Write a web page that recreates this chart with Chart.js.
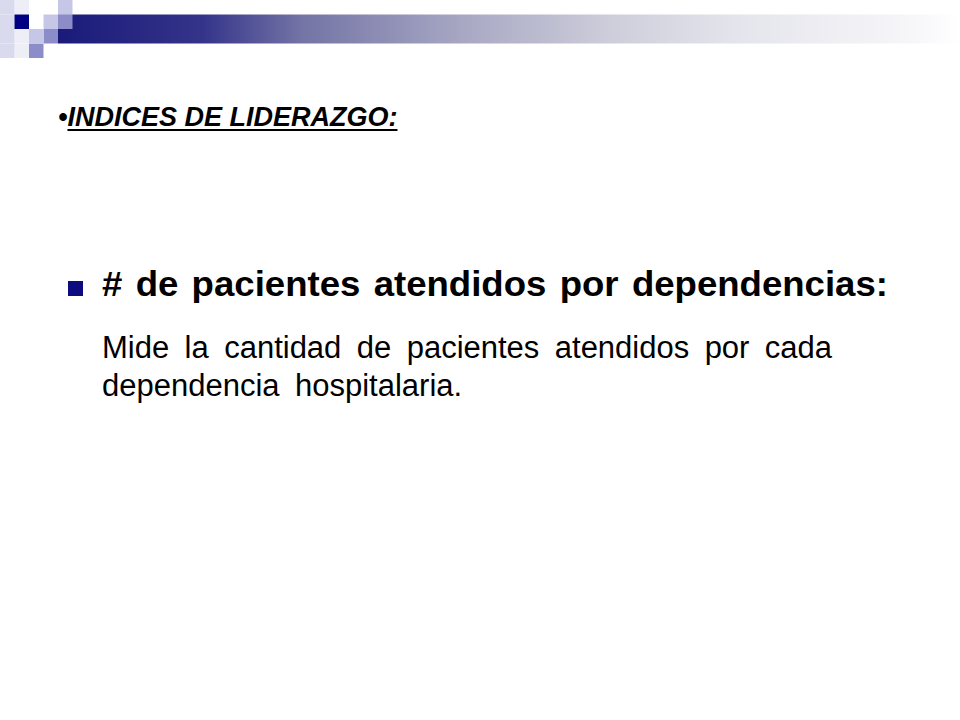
<!DOCTYPE html>
<html>
<head>
<meta charset="utf-8">
<script src="https://cdn.jsdelivr.net/npm/chart.js@4/dist/chart.umd.min.js"></script>
<style>
  html, body { margin: 0; padding: 0; background: #fff; }
  #slide { position: relative; width: 960px; height: 720px; overflow: hidden; font-family: "Liberation Sans", Arial, sans-serif; color: #000; }
  #deco { position: absolute; left: 0; top: 0; }
  .title { position: absolute; left: 58px; top: 104px; font-size: 27px; line-height: 27px; font-weight: bold; font-style: italic; white-space: nowrap; }
  .title u { text-decoration-thickness: 2px; text-underline-offset: 3px; }
  .bullet { position: absolute; left: 68px; top: 281px; width: 15px; height: 15px; background: #0c0c80; }
  .head { position: absolute; left: 102px; top: 266px; font-size: 35px; line-height: 35px; font-weight: bold; white-space: nowrap; word-spacing: 3px; transform: scaleX(1.045); transform-origin: 0 0; }
  .body { position: absolute; left: 102px; top: 329px; font-size: 31px; line-height: 38px; white-space: nowrap; word-spacing: 6.8px; }
</style>
</head>
<body>
<div id="slide">
  <canvas id="deco" width="960" height="72"></canvas>
  <div class="title">&bull;<u>INDICES DE LIDERAZGO:</u></div>
  <div class="bullet"></div>
  <div class="head"># de pacientes atendidos por dependencias:</div>
  <div class="body">Mide la cantidad de pacientes atendidos por cada<br>dependencia hospitalaria.</div>
</div>
<script>
// header decoration, in grid cells (col, row)
const navyCells   = [[1, 1]];
const lightCells  = [[4, 0], [3, 1], [2, 2]];
const mediumCells = [[4, 1], [3, 2], [2, 3]];
const paleCells   = [[0, 0], [0, 1], [0, 2], [0, 3]];
const faintCells  = [[1, 0], [1, 2], [1, 3]];
// band across the top: start col, end col, row line
const bandStart = 4;
const bandEnd = 66.3;
const bandRow = 2;

const CELL = 14.5;

function toPoints(cells) {
    return cells.map(c => ({ x: c[0] + 0.5, y: c[1] + 0.5 }))
}

function cellSet(cells, color) {
    return {
        type: 'scatter',
        data: toPoints(cells),
        pointStyle: 'rect',
        pointRadius: CELL / Math.SQRT2,
        pointHoverRadius: CELL / Math.SQRT2,
        backgroundColor: color,
        borderWidth: 0,
        clip: false,
        order: 1
    }
}

const ctx = document.getElementById('deco').getContext('2d');
const chart = new Chart(ctx, {
    type: 'scatter',
    data: {
        datasets: [
            {
                type: 'line',
                data: [{ x: bandStart, y: bandRow }, { x: bandEnd, y: bandRow }],
                borderWidth: 29,
                borderCapStyle: 'butt',
                pointRadius: 0,
                clip: false,
                order: 10,
                borderColor: (c) => {
                    const ch = c.chart;
                    if (!ch.chartArea) return '#1c1c7c';
                    const x0 = ch.scales.x.getPixelForValue(bandStart);
                    const x1 = ch.scales.x.getPixelForValue(bandEnd);
                    const g = ch.ctx.createLinearGradient(x0, 0, x1, 0);
                    g.addColorStop(0, '#1a1a7a');
                    g.addColorStop(0.16, '#34348a');
                    g.addColorStop(0.27, '#7474a6');
                    g.addColorStop(0.45, '#a8a8c4');
                    g.addColorStop(0.62, '#cfcfdc');
                    g.addColorStop(0.75, '#e4e4ec');
                    g.addColorStop(0.94, '#f6f6f9');
                    g.addColorStop(1, '#ffffff');
                    return g
                }
            },
            cellSet(navyCells, '#000080'),
            cellSet(lightCells, '#c6c6e6'),
            cellSet(mediumCells, '#8c8cc8'),
            cellSet(paleCells, '#dadaee'),
            cellSet(faintCells, '#eeeef7')
        ]
    },
    options: {
        responsive: false,
        animation: false,
        events: [],
        layout: { padding: 0, autoPadding: false },
        plugins: { legend: { display: false }, tooltip: { enabled: false } },
        scales: {
            x: { type: 'linear', display: false, min: 0, max: 960 / CELL },
            y: { type: 'linear', display: false, min: 0, max: 72 / CELL, reverse: true }
        }
    }
});
</script>
</body>
</html>
